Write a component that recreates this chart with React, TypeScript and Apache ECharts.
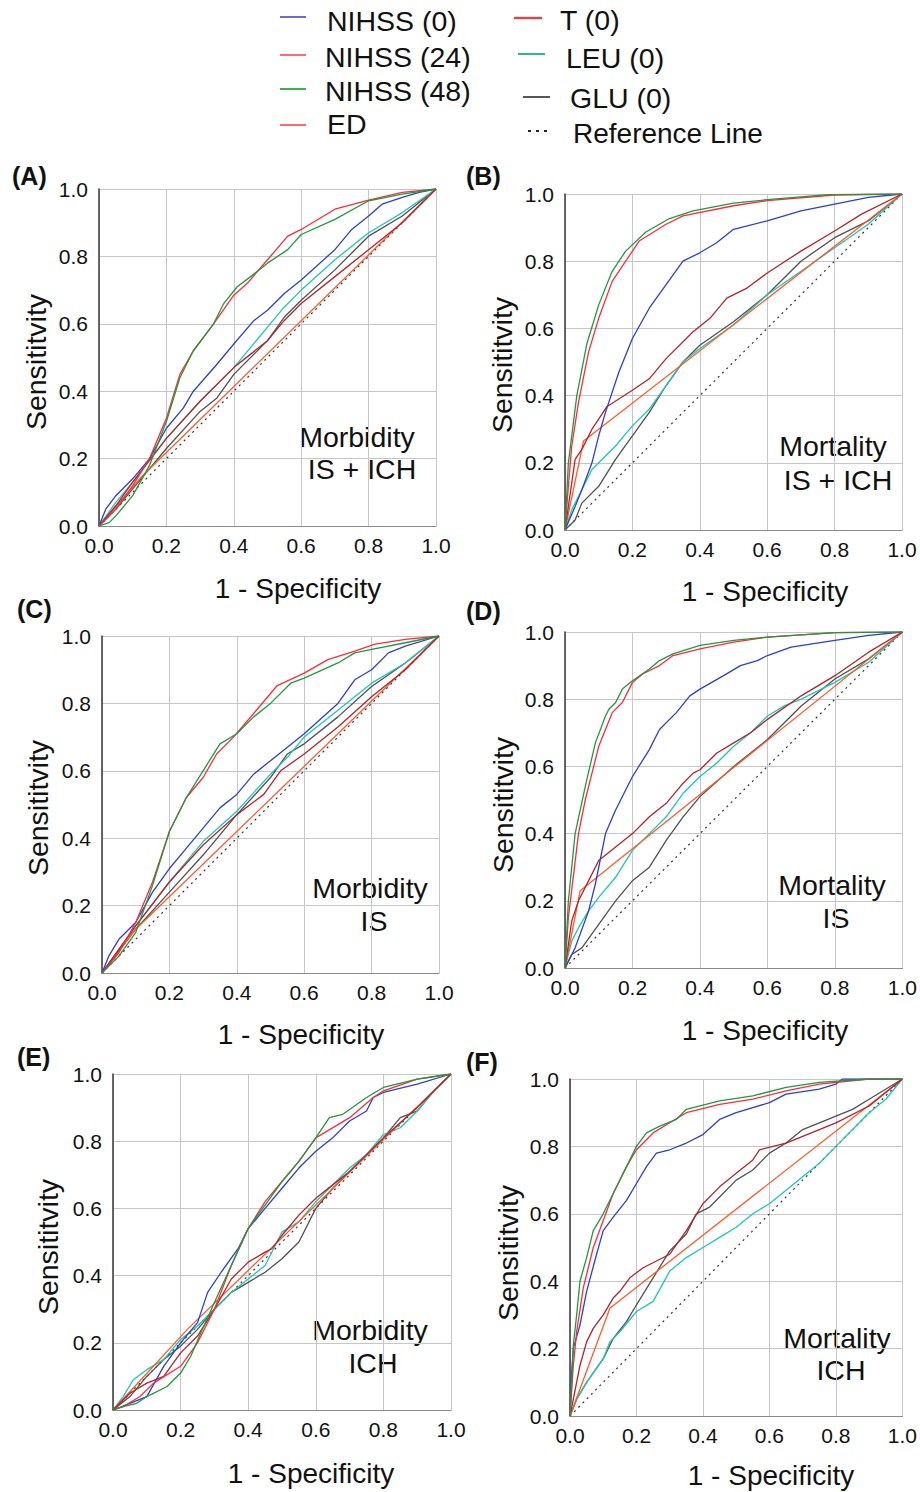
import React, { useEffect, useRef } from "react";
import * as echarts from "echarts";

const FONT = "'Liberation Sans', Arial, sans-serif";

const TICKS_MIN = 0;
const TICKS_MAX = 1;
const TICK_STEP = 0.2;

const CURVE_NAMES = ["NIHSS (0)", "NIHSS (24)", "NIHSS (48)", "ED", "T (0)", "LEU (0)", "GLU (0)"];
const REF_NAME = "Reference Line";
const PANEL_LABELS = ["(A)", "(B)", "(C)", "(D)", "(E)", "(F)"];
const PANEL_NOTES = [
  ["Morbidity", "IS + ICH"],
  ["Mortality", "IS + ICH"],
  ["Morbidity", "IS"],
  ["Mortality", "IS"],
  ["Morbidity", "ICH"],
  ["Mortality", "ICH"],
];
const X_TITLE = "1 - Specificity";
const Y_TITLE = "Sensititvity";

const REF_LINE = [[0, 0], [1, 1]];

// Panel A: Morbidity IS + ICH
const A_NIHSS0 = [[0,0],[0.02,0.05],[0.05,0.09],[0.1,0.14],[0.15,0.2],[0.2,0.29],[0.25,0.35],[0.28,0.4],[0.35,0.48],[0.4,0.54],[0.46,0.61],[0.5,0.64],[0.55,0.69],[0.6,0.73],[0.7,0.82],[0.75,0.88],[0.8,0.92],[0.84,0.955],[0.9,0.975],[0.95,0.99],[1,1]];
const A_NIHSS24 = [[0,0],[0.05,0.05],[0.1,0.12],[0.15,0.2],[0.2,0.32],[0.24,0.45],[0.28,0.52],[0.34,0.6],[0.4,0.685],[0.44,0.72],[0.5,0.79],[0.56,0.86],[0.6,0.88],[0.7,0.94],[0.8,0.967],[0.9,0.99],[1,1]];
const A_NIHSS48 = [[0,0],[0.03,0.01],[0.05,0.03],[0.1,0.09],[0.15,0.18],[0.2,0.31],[0.24,0.44],[0.28,0.52],[0.34,0.6],[0.37,0.66],[0.41,0.71],[0.45,0.74],[0.5,0.78],[0.56,0.82],[0.6,0.865],[0.7,0.91],[0.8,0.965],[0.9,0.985],[1,1]];
const A_ED = [[0,0],[0.13,0.15],[1,1]];
const A_T = [[0,0],[0.05,0.06],[0.1,0.13],[0.2,0.26],[0.3,0.37],[0.4,0.47],[0.45,0.51],[0.5,0.55],[0.55,0.61],[0.6,0.66],[0.7,0.74],[0.8,0.82],[0.9,0.9],[1,1]];
const A_LEU = [[0,0],[0.05,0.07],[0.1,0.13],[0.2,0.26],[0.3,0.37],[0.4,0.47],[0.45,0.53],[0.5,0.59],[0.55,0.65],[0.6,0.7],[0.7,0.79],[0.8,0.87],[0.85,0.9],[0.9,0.93],[1,1]];
const A_GLU = [[0,0],[0.05,0.05],[0.1,0.11],[0.2,0.23],[0.3,0.34],[0.35,0.38],[0.4,0.45],[0.5,0.55],[0.55,0.62],[0.6,0.67],[0.7,0.76],[0.8,0.86],[0.9,0.92],[1,1]];

// Panel B: Mortality IS + ICH
const B_NIHSS0 = [[0,0],[0.03,0.07],[0.05,0.12],[0.08,0.2],[0.1,0.28],[0.12,0.35],[0.16,0.47],[0.2,0.57],[0.25,0.66],[0.3,0.73],[0.35,0.8],[0.4,0.825],[0.45,0.855],[0.5,0.895],[0.6,0.92],[0.7,0.95],[0.8,0.97],[0.9,0.99],[1,1]];
const B_NIHSS24 = [[0,0],[0.01,0.13],[0.02,0.25],[0.04,0.38],[0.07,0.53],[0.1,0.63],[0.14,0.74],[0.18,0.8],[0.22,0.86],[0.3,0.91],[0.35,0.935],[0.5,0.965],[0.6,0.98],[0.8,0.997],[1,1]];
const B_NIHSS48 = [[0,0],[0.01,0.2],[0.035,0.4],[0.065,0.555],[0.1,0.67],[0.14,0.77],[0.18,0.83],[0.24,0.887],[0.31,0.927],[0.38,0.95],[0.5,0.973],[0.6,0.983],[0.78,0.998],[1,1]];
const B_ED = [[0,0],[0.055,0.265],[1,1]];
const B_T = [[0,0],[0.03,0.21],[0.05,0.24],[0.08,0.3],[0.1,0.33],[0.124,0.367],[0.2,0.416],[0.25,0.45],[0.3,0.51],[0.38,0.59],[0.43,0.63],[0.48,0.69],[0.54,0.72],[0.6,0.765],[0.7,0.83],[0.8,0.89],[0.88,0.94],[1,1]];
const B_LEU = [[0,0],[0.02,0.06],[0.05,0.12],[0.08,0.18],[0.1,0.2],[0.15,0.25],[0.2,0.31],[0.25,0.36],[0.3,0.43],[0.35,0.5],[0.4,0.54],[0.5,0.61],[0.6,0.7],[0.7,0.77],[0.8,0.84],[0.9,0.91],[1,1]];
const B_GLU = [[0,0],[0.03,0.03],[0.05,0.08],[0.1,0.13],[0.15,0.21],[0.2,0.28],[0.25,0.35],[0.3,0.43],[0.35,0.5],[0.4,0.55],[0.5,0.62],[0.6,0.7],[0.7,0.8],[0.8,0.87],[0.9,0.92],[1,1]];

// Panel C: Morbidity IS
const C_NIHSS0 = [[0,0],[0.02,0.05],[0.05,0.1],[0.1,0.15],[0.15,0.24],[0.2,0.31],[0.25,0.37],[0.3,0.43],[0.35,0.49],[0.4,0.53],[0.45,0.59],[0.5,0.63],[0.55,0.67],[0.6,0.71],[0.7,0.8],[0.75,0.87],[0.8,0.9],[0.85,0.95],[0.9,0.97],[1,1]];
const C_NIHSS24 = [[0,0],[0.05,0.06],[0.1,0.15],[0.15,0.27],[0.2,0.42],[0.25,0.52],[0.3,0.58],[0.34,0.65],[0.39,0.7],[0.45,0.77],[0.52,0.853],[0.6,0.89],[0.67,0.93],[0.75,0.955],[0.81,0.976],[0.9,0.99],[1,1]];
const C_NIHSS48 = [[0,0],[0.05,0.05],[0.1,0.12],[0.15,0.26],[0.2,0.42],[0.25,0.52],[0.3,0.6],[0.35,0.68],[0.4,0.71],[0.45,0.76],[0.5,0.8],[0.56,0.86],[0.6,0.875],[0.7,0.92],[0.75,0.95],[0.8,0.96],[0.9,0.98],[1,1]];
const C_ED = [[0,0],[0.1,0.13],[1,1]];
const C_T = [[0,0],[0.1,0.14],[0.2,0.27],[0.3,0.38],[0.4,0.47],[0.48,0.53],[0.53,0.6],[0.6,0.65],[0.7,0.73],[0.8,0.82],[0.9,0.9],[1,1]];
const C_LEU = [[0,0],[0.1,0.14],[0.2,0.27],[0.3,0.39],[0.4,0.48],[0.5,0.59],[0.55,0.64],[0.6,0.7],[0.7,0.78],[0.8,0.86],[0.9,0.92],[1,1]];
const C_GLU = [[0,0],[0.1,0.13],[0.2,0.24],[0.3,0.35],[0.4,0.47],[0.5,0.58],[0.55,0.65],[0.6,0.68],[0.7,0.76],[0.8,0.85],[0.9,0.92],[1,1]];

// Panel D: Mortality IS
const D_NIHSS0 = [[0,0],[0.03,0.06],[0.07,0.17],[0.09,0.25],[0.12,0.4],[0.15,0.47],[0.2,0.57],[0.25,0.65],[0.28,0.71],[0.33,0.76],[0.37,0.81],[0.4,0.83],[0.47,0.87],[0.52,0.9],[0.57,0.915],[0.6,0.93],[0.67,0.955],[0.8,0.975],[0.9,0.99],[1,1]];
const D_NIHSS24 = [[0,0],[0.01,0.15],[0.04,0.4],[0.06,0.5],[0.1,0.66],[0.14,0.76],[0.17,0.79],[0.2,0.85],[0.23,0.875],[0.28,0.9],[0.32,0.93],[0.4,0.95],[0.5,0.97],[0.6,0.985],[0.8,0.998],[1,1]];
const D_NIHSS48 = [[0,0],[0.01,0.2],[0.03,0.4],[0.06,0.54],[0.09,0.67],[0.12,0.75],[0.13,0.77],[0.15,0.79],[0.17,0.83],[0.2,0.855],[0.25,0.89],[0.28,0.915],[0.32,0.935],[0.4,0.96],[0.5,0.975],[0.6,0.985],[0.8,0.998],[1,1]];
const D_ED = [[0,0],[0.045,0.23],[1,1]];
const D_T = [[0,0],[0.02,0.14],[0.04,0.2],[0.07,0.26],[0.1,0.32],[0.15,0.36],[0.2,0.4],[0.25,0.45],[0.3,0.49],[0.35,0.55],[0.38,0.58],[0.4,0.59],[0.45,0.64],[0.5,0.67],[0.55,0.7],[0.6,0.74],[0.7,0.81],[0.8,0.87],[0.9,0.94],[1,1]];
const D_LEU = [[0,0],[0.02,0.08],[0.04,0.12],[0.07,0.17],[0.1,0.21],[0.15,0.27],[0.2,0.35],[0.25,0.4],[0.3,0.45],[0.35,0.52],[0.4,0.57],[0.45,0.61],[0.5,0.66],[0.55,0.7],[0.6,0.75],[0.65,0.78],[0.7,0.8],[0.8,0.85],[0.9,0.91],[1,1]];
const D_GLU = [[0,0],[0.02,0.04],[0.05,0.06],[0.1,0.13],[0.15,0.2],[0.2,0.26],[0.25,0.3],[0.3,0.38],[0.35,0.45],[0.4,0.51],[0.5,0.6],[0.6,0.68],[0.7,0.78],[0.8,0.86],[0.9,0.92],[1,1]];

// Panel E: Morbidity ICH
const E_NIHSS0 = [[0,0],[0.05,0.02],[0.1,0.04],[0.15,0.13],[0.2,0.2],[0.25,0.26],[0.28,0.35],[0.32,0.41],[0.37,0.48],[0.4,0.54],[0.45,0.6],[0.5,0.66],[0.55,0.72],[0.6,0.77],[0.65,0.81],[0.7,0.86],[0.75,0.89],[0.77,0.93],[0.8,0.945],[0.9,0.97],[1,1]];
const E_NIHSS24 = [[0,0],[0.03,0.01],[0.08,0.04],[0.12,0.08],[0.2,0.13],[0.25,0.2],[0.3,0.3],[0.35,0.43],[0.4,0.54],[0.45,0.62],[0.5,0.68],[0.55,0.74],[0.6,0.81],[0.7,0.87],[0.77,0.93],[0.8,0.95],[0.9,0.985],[1,1]];
const E_NIHSS48 = [[0,0],[0.03,0.01],[0.07,0.02],[0.1,0.04],[0.16,0.07],[0.2,0.11],[0.23,0.16],[0.26,0.23],[0.3,0.32],[0.35,0.43],[0.4,0.54],[0.45,0.61],[0.5,0.68],[0.55,0.74],[0.6,0.81],[0.64,0.87],[0.68,0.88],[0.75,0.93],[0.8,0.96],[0.9,0.985],[1,1]];
const E_ED = [[0,0],[0.22,0.24],[1,1]];
const E_T = [[0,0],[0.05,0.05],[0.1,0.08],[0.15,0.1],[0.2,0.17],[0.25,0.22],[0.3,0.3],[0.35,0.39],[0.4,0.44],[0.45,0.47],[0.47,0.48],[0.5,0.52],[0.55,0.58],[0.6,0.63],[0.65,0.67],[0.7,0.71],[0.8,0.81],[0.9,0.9],[1,1]];
const E_LEU = [[0,0],[0.03,0.04],[0.06,0.09],[0.1,0.12],[0.15,0.15],[0.2,0.21],[0.25,0.25],[0.3,0.3],[0.35,0.35],[0.4,0.39],[0.45,0.43],[0.5,0.53],[0.55,0.56],[0.6,0.62],[0.65,0.67],[0.7,0.72],[0.75,0.76],[0.8,0.82],[0.85,0.84],[0.9,0.89],[0.95,0.95],[1,1]];
const E_GLU = [[0,0],[0.05,0.04],[0.1,0.1],[0.15,0.15],[0.2,0.19],[0.25,0.24],[0.3,0.3],[0.35,0.35],[0.4,0.38],[0.45,0.41],[0.5,0.45],[0.55,0.5],[0.6,0.6],[0.65,0.66],[0.7,0.71],[0.8,0.81],[0.85,0.87],[0.9,0.89],[0.95,0.95],[1,1]];

// Panel F: Mortality ICH
const F_NIHSS0 = [[0,0],[0.005,0.13],[0.01,0.2],[0.03,0.27],[0.05,0.37],[0.08,0.48],[0.1,0.55],[0.13,0.59],[0.17,0.64],[0.2,0.69],[0.23,0.74],[0.26,0.78],[0.3,0.79],[0.35,0.81],[0.4,0.835],[0.45,0.88],[0.5,0.9],[0.6,0.93],[0.65,0.955],[0.75,0.97],[0.8,0.985],[0.82,1],[1,1]];
const F_NIHSS24 = [[0,0],[0.01,0.15],[0.02,0.25],[0.04,0.38],[0.07,0.5],[0.1,0.58],[0.13,0.66],[0.17,0.74],[0.2,0.79],[0.25,0.84],[0.3,0.87],[0.35,0.9],[0.45,0.925],[0.55,0.94],[0.65,0.965],[0.75,0.985],[0.9,1],[1,1]];
const F_NIHSS48 = [[0,0],[0.005,0.1],[0.01,0.21],[0.02,0.3],[0.03,0.4],[0.05,0.47],[0.07,0.55],[0.1,0.6],[0.13,0.66],[0.17,0.74],[0.2,0.8],[0.23,0.84],[0.27,0.86],[0.32,0.88],[0.35,0.91],[0.45,0.935],[0.55,0.95],[0.65,0.975],[0.75,0.99],[0.9,1],[1,1]];
const F_ED = [[0,0],[0.12,0.32],[1,1]];
const F_T = [[0,0],[0.01,0.05],[0.03,0.15],[0.05,0.22],[0.07,0.26],[0.1,0.3],[0.13,0.35],[0.15,0.37],[0.18,0.41],[0.22,0.44],[0.3,0.48],[0.35,0.55],[0.4,0.63],[0.45,0.68],[0.5,0.72],[0.55,0.76],[0.57,0.79],[0.65,0.81],[0.7,0.83],[0.8,0.87],[0.9,0.92],[1,1]];
const F_LEU = [[0,0],[0.02,0.05],[0.05,0.1],[0.1,0.17],[0.12,0.22],[0.15,0.25],[0.2,0.31],[0.25,0.34],[0.3,0.43],[0.35,0.47],[0.4,0.5],[0.45,0.53],[0.5,0.56],[0.55,0.6],[0.6,0.63],[0.65,0.67],[0.7,0.71],[0.75,0.75],[0.8,0.8],[0.85,0.85],[0.9,0.9],[0.95,0.94],[1,1]];
const F_GLU = [[0,0],[0.02,0.05],[0.05,0.1],[0.1,0.17],[0.13,0.23],[0.17,0.28],[0.2,0.33],[0.25,0.41],[0.3,0.49],[0.35,0.54],[0.38,0.6],[0.42,0.62],[0.45,0.65],[0.5,0.7],[0.55,0.73],[0.6,0.78],[0.65,0.81],[0.7,0.85],[0.75,0.87],[0.8,0.89],[0.85,0.91],[0.9,0.94],[1,1]];

const PANEL_CURVES = [
  [A_NIHSS0, A_NIHSS24, A_NIHSS48, A_ED, A_T, A_LEU, A_GLU],
  [B_NIHSS0, B_NIHSS24, B_NIHSS48, B_ED, B_T, B_LEU, B_GLU],
  [C_NIHSS0, C_NIHSS24, C_NIHSS48, C_ED, C_T, C_LEU, C_GLU],
  [D_NIHSS0, D_NIHSS24, D_NIHSS48, D_ED, D_T, D_LEU, D_GLU],
  [E_NIHSS0, E_NIHSS24, E_NIHSS48, E_ED, E_T, E_LEU, E_GLU],
  [F_NIHSS0, F_NIHSS24, F_NIHSS48, F_ED, F_T, F_LEU, F_GLU],
];

// ---- styling / layout ----
const CURVE_COLORS = ["#2b3fd0", "#ff2a3c", "#1f9a3a", "#ff5a28", "#b4232a", "#1fc6b4", "#505050"];
const LEGEND_COLORS = ["#5a5ad6", "#ff5a66", "#22aa44", "#ff5a5a", "#e24444", "#14b07e", "#444444"];
const DRAW_ORDER = [6, 5, 3, 4, 0, 1, 2];

const GRIDS = [
  { left: 99, top: 189, width: 337, height: 337 },
  { left: 565, top: 194, width: 337, height: 336 },
  { left: 102, top: 636, width: 337, height: 337 },
  { left: 565, top: 632, width: 338, height: 336 },
  { left: 113, top: 1074, width: 338, height: 336 },
  { left: 570, top: 1079, width: 338, height: 337 },
];
const LABEL_POS = [[12, 176], [466, 176], [17, 609], [466, 611], [17, 1057], [466, 1062]];
const XTITLE_POS = [[298, 588], [765, 591], [301, 1034], [765, 1030], [311, 1473], [771, 1475]];
const YTITLE_POS = [[36, 362], [502, 365], [38, 808], [503, 805], [48, 1247], [508, 1253]];
const NOTE_POS = [
  [[357, 437], [362, 469]],
  [[833, 446], [838, 480]],
  [[370, 888], [374, 921]],
  [[832, 885], [836, 918]],
  [[370, 1330], [373, 1363]],
  [[837, 1338], [841, 1370]],
];
const LEGEND_ITEMS = [
  { line: [280, 306, 17], text: [327, 21] },
  { line: [280, 306, 55], text: [325, 57] },
  { line: [280, 306, 89], text: [325, 91] },
  { line: [280, 306, 125], text: [327, 124] },
  { line: [514, 542, 18], text: [560, 20] },
  { line: [518, 545, 54], text: [566, 58] },
  { line: [523, 550, 97], text: [570, 98] },
];
const LEGEND_REF = { line: [528, 552, 131], text: [573, 133] };

function buildOption() {
  const grid = GRIDS.map((g) => ({ ...g, containLabel: false }));
  const xAxis = GRIDS.map((_, i) => ({
    gridIndex: i,
    type: "value",
    min: TICKS_MIN,
    max: TICKS_MAX,
    interval: TICK_STEP,
    axisLabel: { formatter: (v: number) => v.toFixed(1), fontSize: 21, color: "#111", margin: 9, fontFamily: FONT },
    axisLine: { show: true, lineStyle: { color: "#8a8a8a", width: 1.2 } },
    axisTick: { show: false },
    splitLine: { show: true, lineStyle: { color: "#c6c6c6", width: 1 } },
  }));
  const yAxis = GRIDS.map((_, i) => ({
    gridIndex: i,
    type: "value",
    min: TICKS_MIN,
    max: TICKS_MAX,
    interval: TICK_STEP,
    axisLabel: { formatter: (v: number) => v.toFixed(1), fontSize: 21, color: "#111", margin: 11, fontFamily: FONT },
    axisLine: { show: true, lineStyle: { color: "#444", width: 1.6 } },
    axisTick: { show: false },
    splitLine: { show: true, lineStyle: { color: "#c6c6c6", width: 1 } },
  }));

  const series: any[] = [];
  PANEL_CURVES.forEach((curves, p) => {
    series.push({
      type: "line",
      name: REF_NAME,
      xAxisIndex: p,
      yAxisIndex: p,
      data: REF_LINE,
      showSymbol: false,
      silent: true,
      lineStyle: { color: "#333", width: 1.2, type: [2, 4] },
    });
    DRAW_ORDER.forEach((k) => {
      series.push({
        type: "line",
        name: CURVE_NAMES[k],
        xAxisIndex: p,
        yAxisIndex: p,
        data: curves[k],
        showSymbol: false,
        silent: true,
        lineStyle: { color: CURVE_COLORS[k], width: 1.3 },
      });
    });
  });

  const graphic: any[] = [];
  const txt = (text: string, x: number, y: number, size: number, align: string, bold = false, rotation = 0) => ({
    type: "text",
    x,
    y,
    rotation,
    style: {
      text,
      fill: "#111",
      font: `${bold ? "bold " : ""}${size}px ${FONT}`,
      textAlign: align,
      textVerticalAlign: "middle",
    },
  });

  LEGEND_ITEMS.forEach((it, k) => {
    graphic.push({
      type: "line",
      shape: { x1: it.line[0], y1: it.line[2], x2: it.line[1], y2: it.line[2] },
      style: { stroke: LEGEND_COLORS[k], lineWidth: k === 4 ? 2.4 : 1.8 },
    });
    graphic.push(txt(CURVE_NAMES[k], it.text[0], it.text[1], 28.5, "left"));
  });
  graphic.push({
    type: "line",
    shape: { x1: LEGEND_REF.line[0], y1: LEGEND_REF.line[2], x2: LEGEND_REF.line[1], y2: LEGEND_REF.line[2] },
    style: { stroke: "#222", lineWidth: 1.8, lineDash: [3, 5] },
  });
  graphic.push(txt(REF_NAME, LEGEND_REF.text[0], LEGEND_REF.text[1], 28, "left"));

  for (let p = 0; p < 6; p++) {
    graphic.push(txt(PANEL_LABELS[p], LABEL_POS[p][0], LABEL_POS[p][1], 25, "left", true));
    graphic.push(txt(X_TITLE, XTITLE_POS[p][0], XTITLE_POS[p][1], 28, "center"));
    graphic.push(txt(Y_TITLE, YTITLE_POS[p][0], YTITLE_POS[p][1], 28.5, "center", false, Math.PI / 2));
    graphic.push(txt(PANEL_NOTES[p][0], NOTE_POS[p][0][0], NOTE_POS[p][0][1], 28.5, "center"));
    graphic.push(txt(PANEL_NOTES[p][1], NOTE_POS[p][1][0], NOTE_POS[p][1][1], 28.5, "center"));
  }

  return {
    animation: false,
    backgroundColor: "#ffffff",
    grid,
    xAxis,
    yAxis,
    series,
    graphic,
  };
}

export default function App() {
  const ref = useRef<HTMLDivElement>(null);
  useEffect(() => {
    if (!ref.current) return;
    const chart = echarts.init(ref.current, null, { renderer: "svg" });
    chart.setOption(buildOption() as any);
    return () => chart.dispose();
  }, []);
  return (
    <div
      ref={ref}
      style={{ position: "absolute", left: 0, top: 0, width: 920, height: 1492, background: "#fff" }}
    />
  );
}
